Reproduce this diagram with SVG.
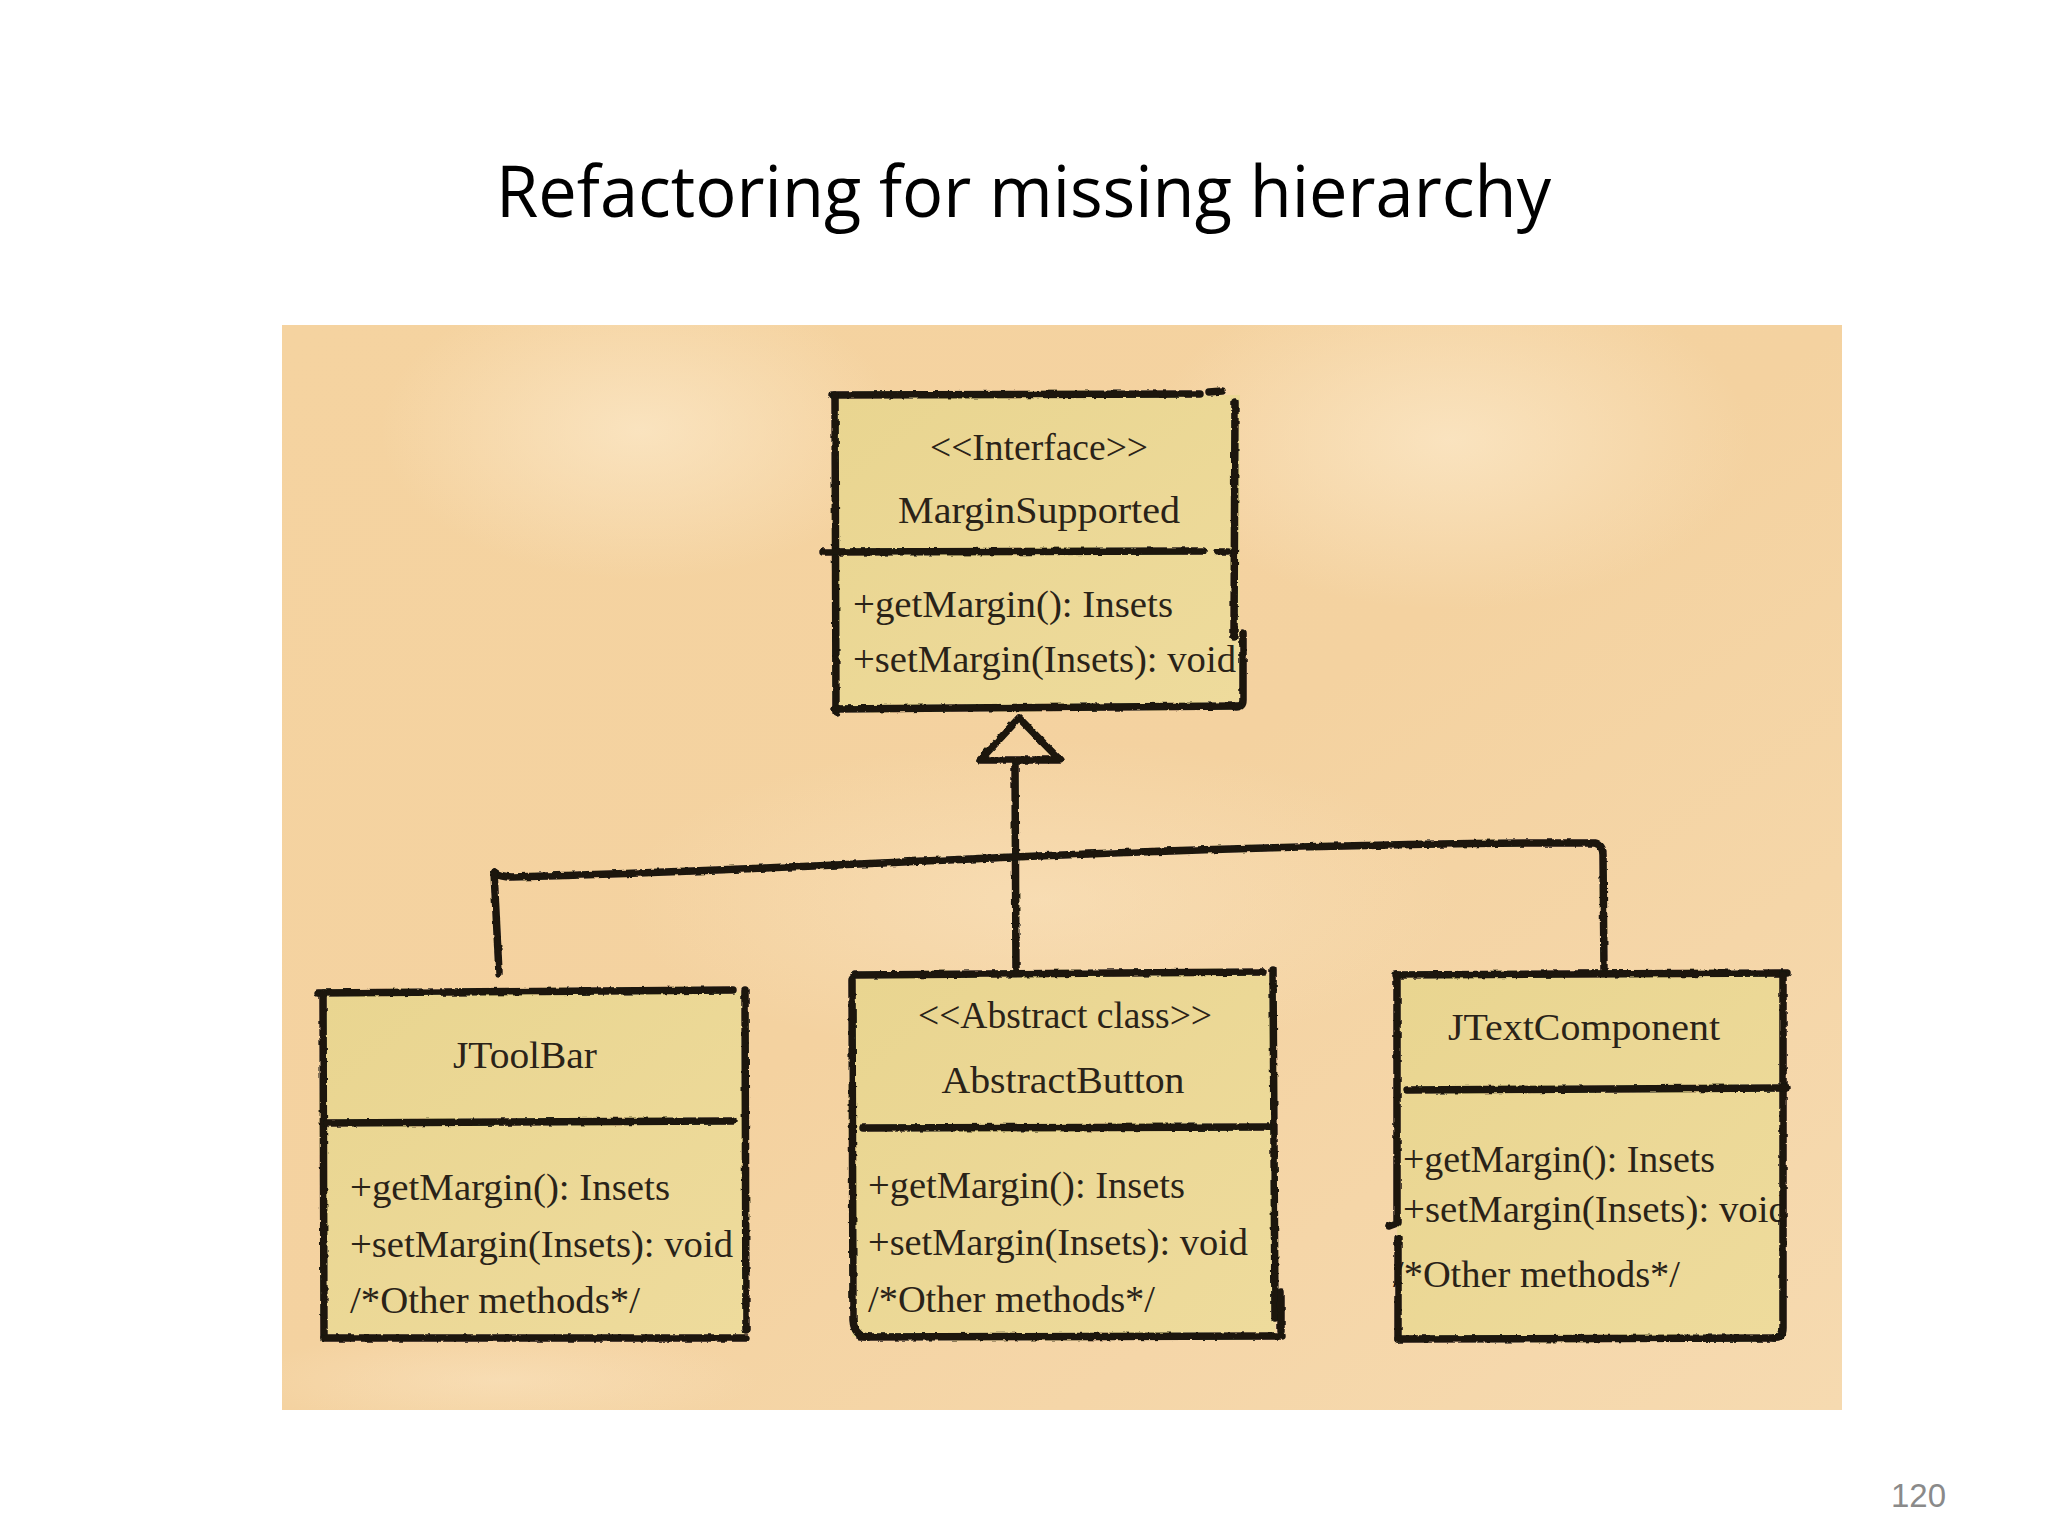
<svg xmlns="http://www.w3.org/2000/svg" width="2048" height="1536" viewBox="0 0 2048 1536">
<defs>
<style>
.title{font-family:"Open Sans","Noto Sans","Liberation Sans",sans-serif;font-size:72px;fill:#000}
.pg{font-family:"Liberation Sans",Arial,sans-serif;font-size:33px;fill:#8a8a8a}
.t{font-family:"Liberation Serif","DejaVu Serif",serif;font-size:38px;fill:#2a2318}
.hd{text-anchor:middle}
.ln{fill:none;stroke:#1a150f;stroke-width:7.5;stroke-linecap:round;stroke-linejoin:round}
.box{fill:url(#nodeFill)}
</style>
<linearGradient id="paperG" x1="0" y1="0" x2="1" y2="1">
<stop offset="0" stop-color="#F5D3A0"/>
<stop offset="0.5" stop-color="#F4D2A0"/>
<stop offset="1" stop-color="#F6DAB0"/>
</linearGradient>
<radialGradient id="glow" cx="0.5" cy="0.5" r="0.5">
<stop offset="0" stop-color="#FBE7C6" stop-opacity="0.8"/>
<stop offset="1" stop-color="#FBE7C6" stop-opacity="0"/>
</radialGradient>
<linearGradient id="nodeFill" x1="0" y1="0" x2="1" y2="1">
<stop offset="0" stop-color="#E9D590"/>
<stop offset="1" stop-color="#EEDB9C"/>
</linearGradient>
<filter id="rough" x="-10%" y="-10%" width="120%" height="120%">
<feTurbulence type="fractalNoise" baseFrequency="0.15" numOctaves="2" seed="4" result="n"/>
<feDisplacementMap in="SourceGraphic" in2="n" scale="3.5" xChannelSelector="R" yChannelSelector="G"/>
</filter>
<clipPath id="clipPaper"><rect x="282" y="325" width="1560" height="1085"/></clipPath>
<clipPath id="clipMS"><rect x="830" y="380" width="406" height="340"/></clipPath>
<clipPath id="clipTC"><rect x="1390" y="960" width="390" height="390"/></clipPath>
</defs>
<rect width="2048" height="1536" fill="#fff"/>
<text class="title" x="496" y="217" textLength="1055" lengthAdjust="spacingAndGlyphs">Refactoring for missing hierarchy</text>
<text class="pg" x="1891" y="1507">120</text>

<g id="paper" clip-path="url(#clipPaper)">
<rect x="282" y="325" width="1560" height="1085" fill="url(#paperG)"/>
<ellipse cx="640" cy="430" rx="260" ry="150" fill="url(#glow)"/>
<ellipse cx="1450" cy="440" rx="300" ry="170" fill="url(#glow)"/>
<ellipse cx="1040" cy="900" rx="420" ry="160" fill="url(#glow)" opacity="0.6"/>
<ellipse cx="500" cy="1380" rx="260" ry="50" fill="url(#glow)" opacity="0.6"/>
</g>

<g id="connectors" filter="url(#rough)">
<path class="ln" d="M1015 764 L1016 975"/>
<path class="ln" d="M494 872 Q500 877 512 877 C 700 872 900 862 1013 857 S 1400 842 1595 843 Q1603 845 1603 855 L1604 972"/>
<path class="ln" d="M494 872 L499 973"/>
<path class="ln" d="M1019 718 L980 760 L1060 760 Z" fill="#F3D4A2"/>
</g>

<g id="node-MarginSupported">
<rect class="box" x="835" y="395" width="405" height="312"/>
<text class="t hd" x="1039" y="460" font-size="34" textLength="218" lengthAdjust="spacingAndGlyphs">&lt;&lt;Interface&gt;&gt;</text>
<text class="t hd" x="1039" y="523" textLength="282" lengthAdjust="spacingAndGlyphs">MarginSupported</text>
<g clip-path="url(#clipMS)">
<text class="t" x="853" y="617" textLength="320" lengthAdjust="spacingAndGlyphs">+getMargin(): Insets</text>
<text class="t" x="853" y="672" textLength="383" lengthAdjust="spacingAndGlyphs">+setMargin(Insets): void</text>
</g>
<g filter="url(#rough)">
<path class="ln" d="M832 395 L1200 394 M1209 392 L1222 391"/>
<path class="ln" d="M835 395 L836 712"/>
<path class="ln" d="M1235 402 L1234 637"/>
<path class="ln" d="M1243 633 L1243 700 Q1243 707 1236 707"/>
<path class="ln" d="M835 709 L1238 706"/>
<path class="ln" d="M823 552 L1203 551 M1218 552 L1228 552"/>
</g>
</g>

<g id="node-JToolBar">
<rect class="box" x="323" y="992" width="422" height="346"/>
<text class="t hd" x="525" y="1068" textLength="144" lengthAdjust="spacingAndGlyphs">JToolBar</text>
<text class="t" x="350" y="1200" textLength="320" lengthAdjust="spacingAndGlyphs">+getMargin(): Insets</text>
<text class="t" x="350" y="1257" textLength="383" lengthAdjust="spacingAndGlyphs">+setMargin(Insets): void</text>
<text class="t" x="350" y="1313" textLength="290" lengthAdjust="spacingAndGlyphs">/*Other methods*/</text>
<g filter="url(#rough)">
<path class="ln" d="M318 993 L733 990"/>
<path class="ln" d="M323 993 L324 1337"/>
<path class="ln" d="M745 990 L746 1330"/>
<path class="ln" d="M324 1338 L746 1338"/>
<path class="ln" d="M327 1123 L733 1121"/>
</g>
</g>

<g id="node-AbstractButton">
<rect class="box" x="852" y="975" width="423" height="362"/>
<text class="t hd" x="1065" y="1028" textLength="294" lengthAdjust="spacingAndGlyphs">&lt;&lt;Abstract class&gt;&gt;</text>
<text class="t hd" x="1063" y="1093" textLength="243" lengthAdjust="spacingAndGlyphs">AbstractButton</text>
<text class="t" x="868" y="1198" textLength="317" lengthAdjust="spacingAndGlyphs">+getMargin(): Insets</text>
<text class="t" x="868" y="1255" textLength="380" lengthAdjust="spacingAndGlyphs">+setMargin(Insets): void</text>
<text class="t" x="868" y="1312" textLength="287" lengthAdjust="spacingAndGlyphs">/*Other methods*/</text>
<g filter="url(#rough)">
<path class="ln" d="M855 975 L1263 972"/>
<path class="ln" d="M852 980 L853 1320 Q854 1336 868 1337"/>
<path class="ln" d="M1273 970 L1275 1318"/>
<path class="ln" d="M1281 1292 L1281 1330"/>
<path class="ln" d="M860 1337 L1282 1336"/>
<path class="ln" d="M863 1128 L1268 1127"/>
</g>
</g>

<g id="node-JTextComponent">
<rect class="box" x="1397" y="975" width="386" height="363"/>
<text class="t hd" x="1584" y="1040" textLength="272" lengthAdjust="spacingAndGlyphs">JTextComponent</text>
<g clip-path="url(#clipTC)">
<text class="t" x="1403" y="1172" textLength="312" lengthAdjust="spacingAndGlyphs">+getMargin(): Insets</text>
<text class="t" x="1403" y="1222" textLength="385" lengthAdjust="spacingAndGlyphs">+setMargin(Insets): void</text>
<text class="t" x="1393" y="1287" textLength="287" lengthAdjust="spacingAndGlyphs">/*Other methods*/</text>
</g>
<g filter="url(#rough)">
<path class="ln" d="M1395 975 L1787 973"/>
<path class="ln" d="M1397 975 L1397 1223 L1389 1226"/>
<path class="ln" d="M1398 1238 L1398 1339"/>
<path class="ln" d="M1783 975 L1783 1328 Q1783 1338 1774 1338"/>
<path class="ln" d="M1398 1339 L1778 1338"/>
<path class="ln" d="M1407 1090 L1787 1088"/>
</g>
</g>
</svg>
